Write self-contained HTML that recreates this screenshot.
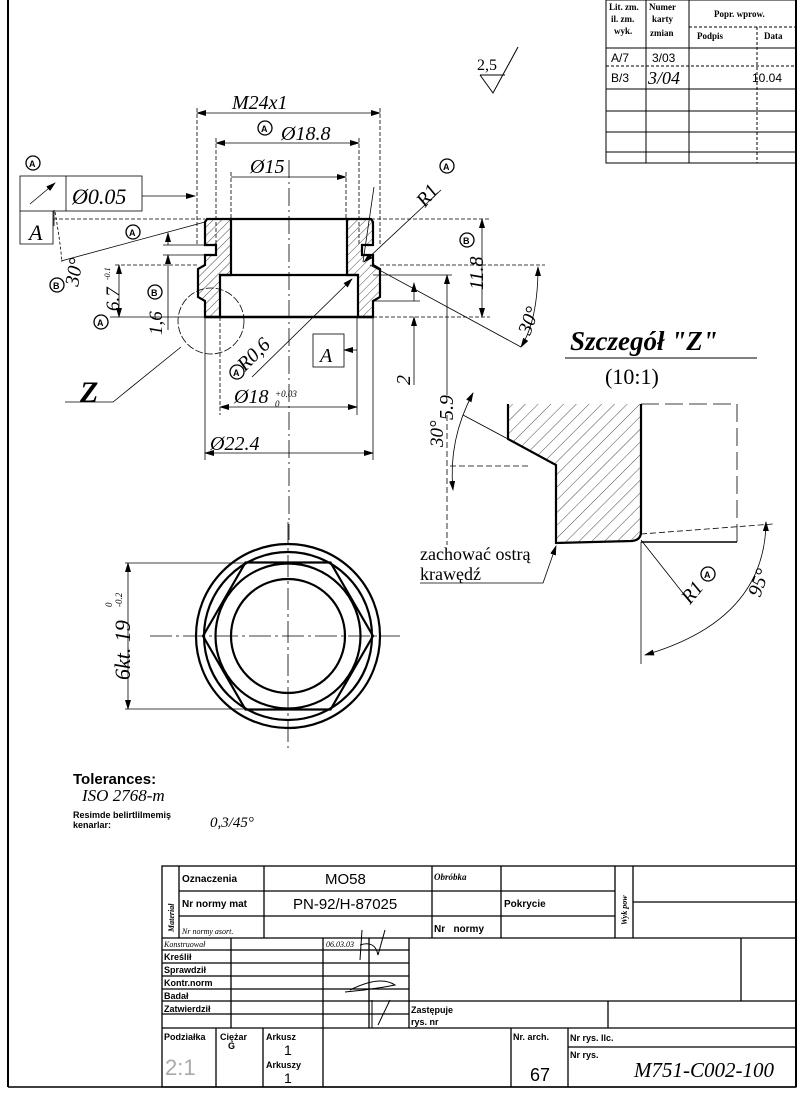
<!DOCTYPE html>
<html><head><meta charset="utf-8"><style>
html,body{margin:0;padding:0;background:#fff}
svg{display:block}
.d{font-family:"Liberation Serif",serif;font-style:italic;fill:#000}
.s{font-family:"Liberation Sans",sans-serif;font-weight:bold;fill:#000}
</style></head><body>
<svg width="800" height="1095" viewBox="0 0 800 1095" xmlns="http://www.w3.org/2000/svg">
<defs>
<pattern id="h" width="6" height="6" patternUnits="userSpaceOnUse" patternTransform="rotate(45)"><line x1="0" y1="0" x2="0" y2="6" stroke="#000" stroke-width="0.7"/></pattern>
<pattern id="h2" width="9" height="9" patternUnits="userSpaceOnUse" patternTransform="rotate(45)"><line x1="0" y1="0" x2="0" y2="9" stroke="#000" stroke-width="0.7"/></pattern>
<marker id="a" markerWidth="10" markerHeight="6" refX="9" refY="3" orient="auto-start-reverse" markerUnits="userSpaceOnUse"><path d="M0,0 L10,3 L0,6z" fill="#000"/></marker>
</defs>
<g fill="none" stroke="#000">
<line x1="8" y1="0" x2="8" y2="1087" stroke-width="2"/>
<line x1="796" y1="0" x2="796" y2="1087" stroke-width="2"/>
<line x1="8" y1="1087" x2="796" y2="1087" stroke-width="1.5"/>

<g stroke-width="1">
<rect x="606" y="0" width="190" height="163"/>
<line x1="646" y1="0" x2="646" y2="163"/><line x1="689" y1="0" x2="689" y2="163"/>
<line x1="757" y1="27" x2="757" y2="163" stroke-dasharray="3,2"/>
<line x1="689" y1="27" x2="796" y2="27" stroke-dasharray="3,2"/>
<line x1="606" y1="48" x2="796" y2="48"/>
<line x1="606" y1="66" x2="796" y2="66" stroke-dasharray="3,2"/>
<line x1="606" y1="89" x2="796" y2="89"/>
<line x1="606" y1="111" x2="796" y2="111"/>
<line x1="606" y1="132" x2="796" y2="132"/>
<line x1="606" y1="152" x2="796" y2="152"/>
</g>

<path d="M480,75 L493,93 L518,47" stroke-width="1"/>
<line x1="480" y1="75" x2="505" y2="75" stroke-width="1"/>

<path d="M207,219 L231,219 L231,275 L220,275 L220,317 L205,317 L205,301 L198,297 L198,269 L205,265 L205,255 L216,255 L216,245 L205,245 L205,222 Z" fill="url(#h)" stroke-width="2.2"/>
<path d="M371,219 L347,219 L347,275 L358,275 L358,317 L373,317 L373,301 L380,297 L380,269 L373,265 L373,255 L362,255 L362,245 L373,245 L373,222 Z" fill="url(#h)" stroke-width="2.2"/>
<line x1="231" y1="219" x2="347" y2="219" stroke-width="2.2"/>
<line x1="220" y1="275" x2="358" y2="275" stroke-width="2.2"/>
<line x1="205" y1="317" x2="373" y2="317" stroke-width="2.5"/>
<line x1="289" y1="160" x2="289" y2="540" stroke-width="0.8" stroke-dasharray="18,4,2,4"/>

<g stroke-width="0.8">
<line x1="197" y1="113" x2="380" y2="113" marker-start="url(#a)" marker-end="url(#a)"/>
<line x1="197" y1="108" x2="197" y2="245" stroke-dasharray="4,2"/>
<line x1="380" y1="108" x2="380" y2="245" stroke-dasharray="4,2"/>
<line x1="216" y1="143" x2="359" y2="143" marker-start="url(#a)" marker-end="url(#a)"/>
<line x1="216" y1="138" x2="216" y2="245" stroke-dasharray="4,2"/>
<line x1="359" y1="138" x2="359" y2="245" stroke-dasharray="4,2"/>
<line x1="231" y1="177" x2="346" y2="177" marker-end="url(#a)"/>
<line x1="231" y1="172" x2="231" y2="219" stroke-dasharray="4,2"/>
<line x1="346" y1="172" x2="346" y2="219" stroke-dasharray="4,2"/>
<rect x="20" y="176" width="122" height="35"/>
<line x1="66" y1="176" x2="66" y2="211"/>
<polyline points="20,211 20,244 53,244 53,211"/>
<line x1="142" y1="196" x2="195" y2="196" marker-end="url(#a)"/>
<line x1="30" y1="204" x2="55" y2="183" marker-end="url(#a)"/>
<line x1="54" y1="210" x2="54" y2="226" />
<line x1="53" y1="219" x2="205" y2="219" stroke-dasharray="4,2"/>
<line x1="61" y1="261" x2="205" y2="222"/>
<path d="M55,212 Q60,240 62,262" stroke-dasharray="3,2"/>
<line x1="119" y1="265" x2="119" y2="317" marker-start="url(#a)" marker-end="url(#a)"/>
<line x1="115" y1="265" x2="198" y2="265" stroke-dasharray="4,2"/>
<line x1="110" y1="317" x2="205" y2="317"/>
<line x1="168" y1="233" x2="168" y2="245" marker-start="url(#a)"/>
<line x1="168" y1="255" x2="168" y2="330" marker-start="url(#a)"/>
<line x1="163" y1="245" x2="205" y2="245"/>
<line x1="163" y1="255" x2="205" y2="255"/>
<circle cx="211" cy="321" r="33" stroke-dasharray="8,2"/>
<polyline points="181,347 113,402 65,402"/>
<line x1="252" y1="377" x2="352" y2="279" marker-end="url(#a)"/>
<rect x="313" y="334" width="31" height="33"/>
<line x1="357" y1="350" x2="344" y2="350" marker-end="url(#a)"/>
<line x1="357" y1="317" x2="357" y2="415"/>
<line x1="220" y1="317" x2="220" y2="415" stroke-dasharray="4,2"/>
<line x1="220" y1="407" x2="357" y2="407" marker-start="url(#a)" marker-end="url(#a)"/>
<line x1="205" y1="317" x2="205" y2="460"/>
<line x1="373" y1="317" x2="373" y2="460"/>
<line x1="205" y1="453" x2="373" y2="453" marker-start="url(#a)" marker-end="url(#a)"/>
<line x1="374" y1="187" x2="363" y2="262"/>
<line x1="441" y1="190" x2="364" y2="262" marker-end="url(#a)"/>
<line x1="371" y1="219" x2="490" y2="219" stroke-dasharray="4,2"/>
<line x1="373" y1="317" x2="490" y2="317" stroke-dasharray="4,2"/>
<line x1="482" y1="219" x2="482" y2="317" marker-start="url(#a)" marker-end="url(#a)"/>
<line x1="380" y1="265" x2="545" y2="265" stroke-dasharray="4,2"/>
<line x1="373" y1="275" x2="452" y2="275"/>
<line x1="373" y1="301" x2="420" y2="301"/>
<line x1="414" y1="283" x2="414" y2="301" marker-start="url(#a)"/>
<line x1="414" y1="317" x2="414" y2="385" marker-start="url(#a)"/>
<line x1="447" y1="275" x2="447" y2="395" marker-start="url(#a)"/>
<line x1="447" y1="415" x2="447" y2="545" stroke-dasharray="6,3"/>
<line x1="370" y1="265" x2="521" y2="347"/>
<path d="M538,267 Q538,320 521,347" marker-start="url(#a)" marker-end="url(#a)"/>
</g>

<path d="M508,404 L641,404 L641,532 Q641,540 632,541 L556,543 L556,465 L508,439 Z" fill="url(#h2)" stroke="none"/>
<path d="M508,404 L508,439 L556,465 L556,543 L632,541 Q641,540 641,532 L641,404" stroke-width="2.2"/>
<path d="M641,404 L737,404 L737,542" stroke-width="0.8" stroke-dasharray="18,6"/>
<line x1="641" y1="542" x2="737" y2="542" stroke-width="1.5"/>
<line x1="641" y1="542" x2="641" y2="664" stroke-width="0.8"/>
<line x1="641" y1="534" x2="773" y2="524" stroke-width="0.8" stroke-dasharray="6,3"/>
<path d="M766,522 Q765,620 645,655" stroke-width="0.8" marker-start="url(#a)" marker-end="url(#a)"/>
<line x1="641" y1="540" x2="690" y2="602" stroke-width="0.8"/>
<polyline points="420,583 543,583 556,546" stroke-width="0.8" marker-end="url(#a)"/>
<line x1="463" y1="415" x2="508" y2="439" stroke-width="0.8"/>
<line x1="450" y1="466" x2="528" y2="466" stroke-width="0.8" stroke-dasharray="6,3"/>
<path d="M473,393 Q448,440 453,490" stroke-width="0.8" marker-start="url(#a)" marker-end="url(#a)"/>
<line x1="565" y1="358" x2="757" y2="358" stroke-width="1"/>

<g stroke-width="2.2">
<circle cx="288" cy="636" r="92"/>
<circle cx="288" cy="636" r="84"/>
<circle cx="288" cy="636" r="72.5"/>
<circle cx="288" cy="636" r="57"/>
<polygon points="203,636 245.5,562.5 330.5,562.5 373,636 330.5,709.5 245.5,709.5"/>
</g>
<g stroke-width="0.8">
<line x1="150" y1="636" x2="400" y2="636" stroke-dasharray="22,4,3,4"/>
<line x1="288" y1="522" x2="288" y2="748" stroke-dasharray="22,4,3,4"/>
<line x1="125" y1="563" x2="250" y2="563"/>
<line x1="125" y1="709" x2="250" y2="709"/>
<line x1="128" y1="563" x2="128" y2="709" marker-start="url(#a)" marker-end="url(#a)"/>
</g>

<g stroke-width="1.3">
<rect x="162" y="866" width="634" height="221"/>
<line x1="179" y1="866" x2="179" y2="938"/>
<line x1="179" y1="891" x2="615" y2="891"/>
<line x1="179" y1="916" x2="615" y2="916"/>
<line x1="162" y1="938" x2="796" y2="938"/>
<line x1="264" y1="866" x2="264" y2="938"/>
<line x1="432" y1="866" x2="432" y2="938"/>
<line x1="501" y1="866" x2="501" y2="938"/>
<line x1="615" y1="866" x2="615" y2="938"/>
<line x1="633" y1="866" x2="633" y2="938"/>
<line x1="633" y1="902" x2="796" y2="902"/>
<line x1="162" y1="950" x2="409" y2="950"/>
<line x1="162" y1="963" x2="409" y2="963"/>
<line x1="162" y1="976" x2="409" y2="976"/>
<line x1="162" y1="989" x2="409" y2="989"/>
<line x1="162" y1="1001" x2="796" y2="1001"/>
<line x1="162" y1="1014" x2="409" y2="1014"/>
<line x1="162" y1="1028" x2="796" y2="1028"/>
<line x1="231" y1="938" x2="231" y2="1028"/>
<line x1="323" y1="938" x2="323" y2="1028"/>
<line x1="369" y1="938" x2="369" y2="1028"/>
<line x1="409" y1="938" x2="409" y2="1028"/>
<line x1="741" y1="938" x2="741" y2="1001"/>
<line x1="608" y1="1001" x2="608" y2="1028"/>
<line x1="216" y1="1028" x2="216" y2="1087"/>
<line x1="263" y1="1028" x2="263" y2="1087"/>
<line x1="323" y1="1028" x2="323" y2="1087"/>
<line x1="511" y1="1028" x2="511" y2="1087"/>
<line x1="568" y1="1028" x2="568" y2="1087"/>
<line x1="568" y1="1047" x2="796" y2="1047"/>
</g>
<path d="M360,960 L362,930 M360,945 Q375,940 378,955 L385,930 M350,990 Q380,975 395,985 Q370,990 345,992 M372,1000 L372,1028 M378,1025 L390,1000" stroke-width="1"/>
</g>

<g class="d">
<text x="232" y="109" font-size="20">M24x1</text>
<text x="281" y="140" font-size="20">Ø18.8</text>
<text x="250" y="173" font-size="20">Ø15</text>
<text x="72" y="204" font-size="22">Ø0.05</text>
<text x="29" y="240" font-size="22">A</text>
<text x="80" y="402" font-size="30" font-weight="bold">Z</text>
<text x="320" y="362" font-size="20">A</text>
<text x="234" y="403" font-size="20">Ø18</text>
<text x="275" y="397" font-size="9">+0.03</text>
<text x="275" y="407" font-size="9">0</text>
<text x="210" y="450" font-size="20">Ø22.4</text>
<text x="477" y="70" font-size="16" font-style="normal">2,5</text>
<text transform="translate(78,287) rotate(-80)" font-size="20">30°</text>
<text transform="translate(119,311) rotate(-90)" font-size="19">6.7</text>
<text transform="translate(110,280) rotate(-90)" font-size="8">-0.1</text>
<text transform="translate(162,335) rotate(-90)" font-size="19">1,6</text>
<text transform="translate(245,372) rotate(-45)" font-size="20">R0,6</text>
<text transform="translate(425,208) rotate(-50)" font-size="20">R1</text>
<text transform="translate(483,290) rotate(-90)" font-size="20">11.8</text>
<text transform="translate(410,385) rotate(-90)" font-size="20">2</text>
<text transform="translate(453,420) rotate(-90)" font-size="20">5.9</text>
<text transform="translate(443,447) rotate(-90)" font-size="19">30°</text>
<text transform="translate(530,336) rotate(-70)" font-size="20">30°</text>
<text x="570" y="350" font-size="27" font-weight="bold">Szczegół "Z"</text>
<text x="605" y="384" font-size="22" font-style="normal">(10:1)</text>
<text transform="translate(690,605) rotate(-50)" font-size="20">R1</text>
<text transform="translate(760,598) rotate(-70)" font-size="20">95°</text>
<text transform="translate(130,680) rotate(-90)" font-size="22">6kt. 19</text>
<text transform="translate(112,607) rotate(-90)" font-size="9">0</text>
<text transform="translate(122,607) rotate(-90)" font-size="9">-0.2</text>
<text x="82" y="801" font-size="17">ISO 2768-m</text>
<text x="210" y="827" font-size="15">0,3/45°</text>
<text x="634" y="1077" font-size="21">M751-C002-100</text>
<text transform="translate(174,932) rotate(-90)" font-size="8" font-weight="bold">Materiał</text>
<text transform="translate(627,925) rotate(-90)" font-size="8" font-weight="bold">Wyk pow</text>
<text x="182" y="934" font-size="8">Nr normy asort.</text>
<text x="164" y="947" font-size="8">Konstruował</text>
<text x="434" y="880" font-size="9" font-weight="bold">Obróbka</text>
<text x="326" y="947" font-size="8">06.03.03</text>
<text x="648" y="84" font-size="18">3/04</text>
</g>
<g font-family="Liberation Sans,sans-serif" font-size="11" font-weight="bold">
<circle cx="33" cy="163" r="7" fill="none" stroke="#000" stroke-width="1.3"/><text x="29" y="167" font-size="9">A</text>
<circle cx="133" cy="232" r="7" fill="none" stroke="#000" stroke-width="1.3"/><text x="129" y="236" font-size="9">A</text>
<circle cx="57" cy="285" r="7" fill="none" stroke="#000" stroke-width="1.3"/><text x="53" y="289" font-size="9">B</text>
<circle cx="101" cy="322" r="7" fill="none" stroke="#000" stroke-width="1.3"/><text x="97" y="326" font-size="9">A</text>
<circle cx="155" cy="292" r="7" fill="none" stroke="#000" stroke-width="1.3"/><text x="151" y="296" font-size="9">B</text>
<circle cx="237" cy="372" r="7" fill="none" stroke="#000" stroke-width="1.3"/><text x="233" y="376" font-size="9">A</text>
<circle cx="265" cy="128" r="7" fill="none" stroke="#000" stroke-width="1.3"/><text x="261" y="132" font-size="9">A</text>
<circle cx="447" cy="166" r="7" fill="none" stroke="#000" stroke-width="1.3"/><text x="443" y="170" font-size="9">A</text>
<circle cx="467" cy="240" r="7" fill="none" stroke="#000" stroke-width="1.3"/><text x="463" y="244" font-size="9">B</text>
<circle cx="708" cy="574" r="7" fill="none" stroke="#000" stroke-width="1.3"/><text x="704" y="578" font-size="9">A</text>
</g>
<g style="font-family:'Liberation Serif',serif" font-size="18">
<text x="420" y="560">zachować ostrą</text>
<text x="420" y="580">krawędź</text>
</g>
<g class="s">
<text x="73" y="784" font-size="15">Tolerances:</text>
<text x="73" y="818" font-size="9">Resimde belirtlilmemiş</text>
<text x="73" y="828" font-size="9">kenarlar:</text>
<text x="182" y="882" font-size="10">Oznaczenia</text>
<text x="182" y="907" font-size="10">Nr normy mat</text>
<text x="504" y="907" font-size="10">Pokrycie</text>
<text x="434" y="932" font-size="10">Nr&#160;&#160;&#160;normy</text>
<text x="164" y="960" font-size="9">Kreślił</text>
<text x="164" y="973" font-size="9">Sprawdził</text>
<text x="164" y="986" font-size="9">Kontr.norm</text>
<text x="164" y="999" font-size="9">Badał</text>
<text x="164" y="1012" font-size="9">Zatwierdził</text>
<text x="411" y="1013" font-size="9">Zastępuje</text>
<text x="411" y="1025" font-size="9">rys.  nr</text>
<text x="164" y="1040" font-size="9">Podziałka</text>
<text x="220" y="1040" font-size="9">Ciężar</text>
<text x="228" y="1049" font-size="9">G</text>
<text x="266" y="1040" font-size="9">Arkusz</text>
<text x="266" y="1068" font-size="9">Arkuszy</text>
<text x="513" y="1040" font-size="9">Nr. arch.</text>
<text x="570" y="1041" font-size="9">Nr  rys. llc.</text>
<text x="570" y="1058" font-size="9">Nr  rys.</text>
</g>
<g font-family="Liberation Sans,sans-serif" fill="#000">
<text x="325" y="884" font-size="15">MO58</text>
<text x="293" y="909" font-size="15">PN-92/H-87025</text>
<text x="284" y="1055" font-size="14">1</text>
<text x="284" y="1083" font-size="14">1</text>
<text x="530" y="1081" font-size="18">67</text>
<text x="165" y="1075" font-size="22" fill="#aaa">2:1</text>
<text x="611" y="62" font-size="12">A/7</text>
<text x="652" y="62" font-size="12">3/03</text>
<text x="611" y="82" font-size="12">B/3</text>
<text x="752" y="82" font-size="12">10.04</text>
</g>
<g font-family="Liberation Serif,serif" font-size="9" font-weight="bold" fill="#000">
<text x="609" y="10">Lit. zm.</text><text x="611" y="22">il. zm.</text><text x="614" y="34">wyk.</text>
<text x="649" y="10">Numer</text><text x="652" y="22">karty</text><text x="650" y="36">zmian</text>
<text x="714" y="17">Popr. wprow.</text>
<text x="697" y="39">Podpis</text><text x="764" y="39">Data</text>
</g>
</svg>
</body></html>
